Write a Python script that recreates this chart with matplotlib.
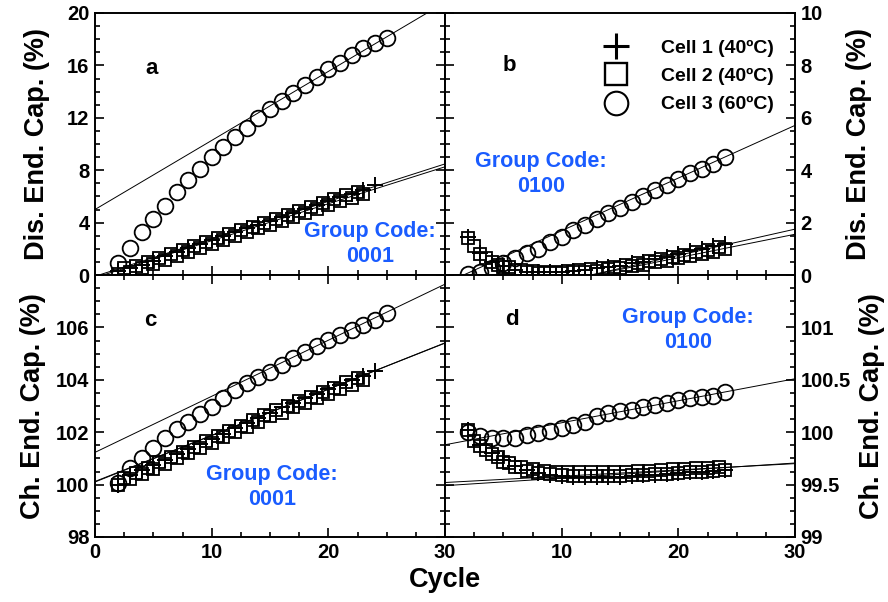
import numpy as np
import matplotlib
matplotlib.use("Agg")
import matplotlib.pyplot as plt
from matplotlib.ticker import MultipleLocator, FuncFormatter
from matplotlib.lines import Line2D

plt.rcParams['font.family'] = ['Liberation Sans', 'DejaVu Sans']
plt.rcParams['font.weight'] = 'bold'

# ---------------- data ----------------
legend_labels = ["Cell 1 (40ºC)", "Cell 2 (40ºC)", "Cell 3 (60ºC)"]
group_codes = ["Group Code:\n0001", "Group Code:\n0100", "Group Code:\n0001", "Group Code:\n0100"]
panel_letters = ["a", "b", "c", "d"]

# Panel a: discharge end capacity, group 0001
a_cell3_x = list(range(2, 26))
a_cell3_y = [0.9, 2.05, 3.3, 4.3, 5.3, 6.3, 7.25, 8.1, 9.0, 9.8, 10.55, 11.25, 12.0, 12.65,
             13.3, 13.9, 14.5, 15.1, 15.7, 16.2, 16.8, 17.3, 17.7, 18.1]
a_cell1_x = list(range(2, 25))
a_cell1_y = [0.3, 0.5, 0.8, 1.1, 1.45, 1.75, 2.05, 2.35, 2.65, 2.95, 3.25, 3.55, 3.85, 4.15,
             4.45, 4.75, 5.05, 5.35, 5.65, 5.95, 6.2, 6.5, 6.85]
a_cell2_x = [2, 2.5, 3, 3.5, 4, 4.5, 5, 5.5, 6, 6.5, 7, 7.5, 8, 8.5, 9, 9.5, 10, 10.5, 11, 11.5,
             12, 12.5, 13, 13.5, 14, 14.5, 15, 15.5, 16, 16.5, 17, 17.5, 18, 18.5, 19, 19.5,
             20, 20.5, 21, 21.5, 22, 22.5, 23]
a_cell2_y = [0.05, 0.5, 0.2, 0.65, 0.55, 1.0, 0.85, 1.3, 1.15, 1.6, 1.45, 1.9, 1.75, 2.2,
             2.05, 2.5, 2.35, 2.8, 2.65, 3.1, 2.95, 3.4, 3.25, 3.7, 3.55, 4.0, 3.85, 4.3,
             4.15, 4.6, 4.45, 4.9, 4.75, 5.2, 5.05, 5.5, 5.35, 5.8, 5.65, 6.1, 5.9, 6.35, 6.15]
# linear fits (intercept, slope)
a_fits = [(-0.1, 0.286), (-0.2, 0.282), (5.0, 0.527)]

# Panel b: discharge end capacity, group 0100
b_cell3_x = list(range(2, 25))
b_cell3_y = [0.05, 0.1, 0.25, 0.45, 0.65, 0.85, 1.0, 1.25, 1.45, 1.7, 1.9, 2.15, 2.35, 2.55,
             2.8, 3.0, 3.25, 3.45, 3.65, 3.9, 4.05, 4.25, 4.5]
b_cell1_x = list(range(2, 25))
b_cell1_y = [1.45, 0.85, 0.5, 0.35, 0.2, 0.1, 0.1, 0.1, 0.1, 0.15, 0.2, 0.25, 0.3, 0.35,
             0.45, 0.5, 0.6, 0.7, 0.8, 0.9, 1.0, 1.1, 1.2]
b_cell2_x = [2, 2.5, 3, 3.5, 4, 4.5, 5, 5.5, 6, 6.5, 7, 7.5, 8, 8.5, 9, 9.5, 10, 10.5, 11, 11.5,
             12, 12.5, 13, 13.5, 14, 14.5, 15, 15.5, 16, 16.5, 17, 17.5, 18, 18.5, 19, 19.5,
             20, 20.5, 21, 21.5, 22, 22.5, 23, 23.5, 24]
b_cell2_y = [1.4, 1.1, 0.8, 0.65, 0.5, 0.4, 0.3, 0.3, 0.2, 0.2, 0.12, 0.15, 0.08, 0.12,
             0.08, 0.12, 0.08, 0.15, 0.1, 0.18, 0.13, 0.22, 0.17, 0.27, 0.22, 0.32, 0.27, 0.4,
             0.33, 0.47, 0.4, 0.55, 0.48, 0.62, 0.55, 0.7, 0.63, 0.78, 0.72, 0.86, 0.8, 0.95,
             0.88, 1.05, 0.98]
b_fits = [(-1.25, 0.1), (-1.13, 0.0895), (-0.32, 0.201)]

# Panel c: charge end capacity, group 0001
c_cell3_x = list(range(2, 26))
c_cell3_y = [100.05, 100.62, 101.0, 101.39, 101.77, 102.11, 102.4, 102.7, 102.97, 103.29,
             103.6, 103.87, 104.12, 104.31, 104.56, 104.82, 105.07, 105.29, 105.52, 105.71,
             105.9, 106.09, 106.3, 106.54]
c_cell1_x = list(range(2, 25))
c_cell1_y = [100.0, 100.35, 100.55, 100.75, 100.95, 101.15, 101.35, 101.55, 101.75, 101.95,
             102.15, 102.35, 102.55, 102.75, 102.95, 103.1, 103.3, 103.45, 103.65, 103.8,
             104.0, 104.15, 104.35]
c_cell2_x = a_cell2_x
c_cell2_y = [100.0, 100.25, 100.2, 100.45, 100.4, 100.65, 100.6, 100.85, 100.8, 101.05,
             101.0, 101.25, 101.2, 101.45, 101.4, 101.65, 101.6, 101.85, 101.8, 102.05,
             102.0, 102.25, 102.2, 102.45, 102.4, 102.65, 102.6, 102.85, 102.75, 103.0,
             102.95, 103.2, 103.1, 103.35, 103.3, 103.55, 103.45, 103.7, 103.65, 103.9,
             103.8, 104.05, 104.0]
c_fits = [(100.12, 0.176), (100.1, 0.177), (101.23, 0.214)]

# Panel d: charge end capacity, group 0100
d_cell3_x = list(range(2, 25))
d_cell3_y = [100.0, 99.96, 99.94, 99.94, 99.94, 99.97, 99.99, 100.01, 100.04, 100.07, 100.1,
             100.15, 100.18, 100.2, 100.21, 100.24, 100.26, 100.28, 100.31, 100.33, 100.34,
             100.35, 100.38]
d_cell1_x = list(range(2, 25))
d_cell1_y = [100.02, 99.88, 99.8, 99.73, 99.68, 99.64, 99.61, 99.59, 99.58, 99.57, 99.57,
             99.57, 99.57, 99.57, 99.58, 99.59, 99.59, 99.6, 99.61, 99.62, 99.62, 99.63, 99.64]
d_cell2_x = b_cell2_x
d_cell2_y = [100.02, 99.92, 99.87, 99.83, 99.79, 99.76, 99.72, 99.71, 99.67, 99.67, 99.63,
             99.65, 99.61, 99.63, 99.6, 99.62, 99.59, 99.62, 99.58, 99.62, 99.58, 99.62,
             99.58, 99.62, 99.58, 99.62, 99.58, 99.62, 99.59, 99.63, 99.59, 99.63, 99.6,
             99.64, 99.6, 99.65, 99.61, 99.65, 99.62, 99.66, 99.62, 99.66, 99.63, 99.67, 99.64]
d_fits = [(99.49, 0.0072), (99.52, 0.006), (99.88, 0.021)]

# axis settings
xlim = (0, 30)
ylims = [(0, 20), (0, 10), (98, 108), (99, 101.5)]
ymajor = [4, 2, 2, 0.5]
ylabel_top = "Dis. End. Cap. (%)"
ylabel_bottom = "Ch. End. Cap. (%)"
xlabel = "Cycle"

# ---------------- figure ----------------
W, H = 888, 602
fig = plt.figure(figsize=(W / 100, H / 100), dpi=100)
L, M, R = 95 / W, 445 / W, 795 / W
T, C, B = 1 - 13 / H, 1 - 275 / H, 1 - 537 / H
aw, ah = M - L, T - C
axA = fig.add_axes([L, C, aw, ah])
axB = fig.add_axes([M, C, aw, ah])
axC = fig.add_axes([L, B, aw, ah])
axD = fig.add_axes([M, B, aw, ah])
axes = [axA, axB, axC, axD]

blue = '#1a5cff'
panels = [
    (a_cell1_x, a_cell1_y, a_cell2_x, a_cell2_y, a_cell3_x, a_cell3_y, a_fits),
    (b_cell1_x, b_cell1_y, b_cell2_x, b_cell2_y, b_cell3_x, b_cell3_y, b_fits),
    (c_cell1_x, c_cell1_y, c_cell2_x, c_cell2_y, c_cell3_x, c_cell3_y, c_fits),
    (d_cell1_x, d_cell1_y, d_cell2_x, d_cell2_y, d_cell3_x, d_cell3_y, d_fits),
]
code_pos = [(0.785, 0.117), (0.275, 0.385), (0.505, 0.19), (0.695, 0.79)]
letter_pos = [(0.163, 0.79), (0.185, 0.80), (0.157, 0.825), (0.19, 0.83)]

xfit = np.array(xlim, dtype=float)
for i, (ax, p) in enumerate(zip(axes, panels)):
    x1, y1, x2, y2, x3, y3, fits = p
    for (b0, b1) in fits:
        ax.plot(xfit, b0 + b1 * xfit, color='black', lw=0.7, zorder=1)
    ax.plot(x2, y2, ls='none', marker='s', ms=8.0, mfc='none', mec='black', mew=1.3,
            clip_on=False, zorder=3)
    ax.plot(x1, y1, ls='none', marker='+', ms=11, mec='black', mew=1.4,
            clip_on=False, zorder=4)
    ax.plot(x3, y3, ls='none', marker='o', ms=11.3, mfc='none', mec='black', mew=1.3,
            clip_on=False, zorder=3)
    ax.set_xlim(*xlim)
    ax.set_ylim(*ylims[i])
    ax.xaxis.set_major_locator(MultipleLocator(10))
    ax.xaxis.set_minor_locator(MultipleLocator(2.5))
    ax.yaxis.set_major_locator(MultipleLocator(ymajor[i]))
    ax.yaxis.set_minor_locator(MultipleLocator(ymajor[i] / 4))
    ax.tick_params(which='both', direction='in', left=True, right=True,
                   top=(i >= 2), bottom=True, width=1.2, labelsize=14.5)
    ax.tick_params(which='major', length=6.5, pad=4)
    ax.tick_params(which='minor', length=3.8)
    for s in ax.spines.values():
        s.set_linewidth(1.4)
    ax.text(*letter_pos[i], panel_letters[i], transform=ax.transAxes, fontsize=16,
            fontweight='bold', ha='center', va='center')
    ax.text(*code_pos[i], group_codes[i], transform=ax.transAxes, fontsize=15.5,
            fontweight='bold', color=blue, ha='center', va='center', linespacing=1.25)

def fmt_hide(hide):
    def f(v, pos):
        if any(abs(v - h) < 1e-9 for h in hide):
            return ""
        return f"{v:g}"
    return FuncFormatter(f)

axA.tick_params(labelbottom=False)
axB.tick_params(labelbottom=False, labelleft=False, labelright=True)
axD.tick_params(labelleft=False, labelright=True)
axA.yaxis.set_major_formatter(fmt_hide([]))
axB.yaxis.set_major_formatter(fmt_hide([]))
axC.yaxis.set_major_formatter(fmt_hide([108]))
axD.yaxis.set_major_formatter(fmt_hide([101.5]))
axC.xaxis.set_major_formatter(fmt_hide([]))
axD.xaxis.set_major_formatter(fmt_hide([0]))

lab_kw = dict(fontsize=19.5, fontweight='bold')
axA.set_ylabel(ylabel_top, **lab_kw)
axC.set_ylabel(ylabel_bottom, **lab_kw)
axB.yaxis.set_label_position('right')
axB.set_ylabel(ylabel_top, **lab_kw)
axD.yaxis.set_label_position('right')
axD.set_ylabel(ylabel_bottom, **lab_kw)
axA.yaxis.labelpad = 12
axC.yaxis.labelpad = 7
axB.yaxis.labelpad = 17
axD.yaxis.labelpad = 6
fig.text((L + R) / 2, 1 - 580 / H, xlabel, ha='center', va='center', **lab_kw)

handles = [
    Line2D([], [], ls='none', marker='+', ms=19, mec='black', mew=2.2),
    Line2D([], [], ls='none', marker='s', ms=16, mfc='none', mec='black', mew=1.7),
    Line2D([], [], ls='none', marker='o', ms=17, mfc='none', mec='black', mew=1.5),
]
axB.legend(handles, legend_labels, loc='upper right', bbox_to_anchor=(0.94, 0.90),
           frameon=False, prop={'size': 14, 'weight': 'bold'}, handlelength=1.2,
           handletextpad=1.7, labelspacing=0.55, borderpad=0, borderaxespad=0)

fig.savefig("out.png", dpi=100)
